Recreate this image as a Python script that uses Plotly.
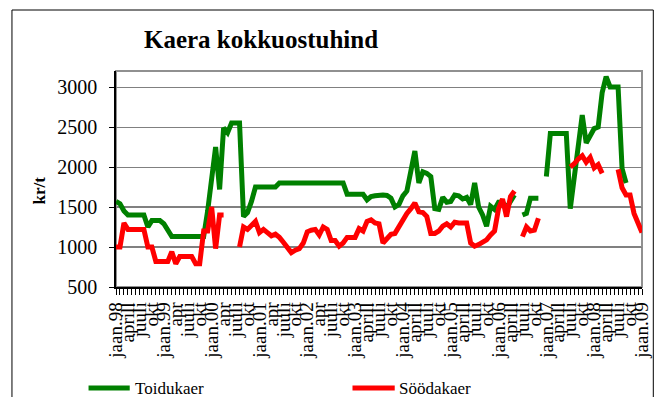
import plotly.graph_objects as go

# monthly purchase prices, jaan.98 ... jaan.09 (kr/t)
toidukaer = [
    1570, 1540, 1450, 1400, 1400, 1400, 1400, 1400, 1250, 1330, 1330, 1330,
    1290, 1200, 1130, 1130, 1130, 1130, 1130, 1130, 1130, 1130, 1130, 1450,
    1900, 2250, 1720, 2490, 2430, 2550, 2550, 2550, 1380, 1430, 1570, 1750,
    1750, 1750, 1750, 1750, 1750, 1800, 1800, 1800, 1800, 1800, 1800, 1800,
    1800, 1800, 1800, 1800, 1800, 1800, 1800, 1800, 1800, 1800, 1660, 1660,
    1660, 1660, 1660, 1590, 1630, 1640, 1650, 1650, 1645, 1610, 1500, 1530,
    1640, 1700, 1950, 2200, 1800, 1940, 1920, 1880, 1480, 1470, 1620, 1560,
    1570, 1650, 1640, 1600, 1620, 1530, 1800, 1500, 1400, 1260, 1510, 1470,
    1560, 1560, 1490, 1560, 1650, None, 1400, 1420, 1610, 1610, 1610, None,
    1880, 2420, 2420, 2420, 2420, 2420, 1480, 1880, 2270, 2650, 2300, 2380,
    2480, 2500, 2930, 3130, 3000, 3000, 3000, 1980, 1800, None, None, None,
    None,
]
soodakaer = [
    1000, 1000, 1300, 1220, 1220, 1220, 1220, 1220, 1000, 1000, 820, 820,
    820, 820, 940, 790, 880, 880, 880, 880, 790, 790, 1200, 1200,
    1500, 980, 1400, 1400, None, None, None, 1000, 1250, 1220, 1260, 1320,
    1180, 1220, 1180, 1140, 1160, 1120, 1060, 990, 930, 960, 980, 1050,
    1190, 1210, 1220, 1150, 1250, 1220, 1080, 1080, 1010, 1050, 1120, 1120,
    1120, 1230, 1200, 1320, 1340, 1300, 1290, 1050, 1100, 1160, 1170, 1260,
    1340, 1420, 1480, 1550, 1440, 1430, 1380, 1170, 1170, 1200, 1260, 1290,
    1250, 1310, 1300, 1300, 1300, 1050, 1010, 1030, 1060, 1090, 1150, 1200,
    1480, 1600, 1380, 1630, 1700, None, 1130, 1250, 1200, 1210, 1360, None,
    None, None, None, None, None, None, 2000, 2040, 2100, 2140, 2060, 2120,
    1990, 2030, 1920, None, None, None, 1970, 1740, 1650, 1650, 1420, 1300,
    1180,
]
months = list(range(len(toidukaer)))

tick_labels = [
    "jaan.98", "aprill", "juuli", "okt",
    "jaan.99", "apr", "juuli", "okt",
    "jaan.00", "apr", "juuli", "okt",
    "jaan.01", "apr", "juuli", "okt",
    "jaan.02", "apr", "juuli", "okt",
    "jaan.03", "aprill", "juuli", "okt",
    "jaan.04", "aprill", "juuli", "okt",
    "jaan.05", "aprill", "juuli", "okt",
    "jaan.06", "aprill", "juuli", "okt",
    "jaan.07", "aprill", "juuli", "okt",
    "jaan.08", "aprill", "juuli", "okt",
    "jaan.09",
]
tick_pos = months[::3]

series = [("Toidukaer", toidukaer, "#008000"), ("Söödakaer", soodakaer, "#FF0000")]

FONT = "Liberation Serif, Times New Roman, serif"

fig = go.Figure()
for name, vals, color in series:
    fig.add_trace(go.Scatter(x=months, y=vals, name=name, mode="lines",
                             line=dict(color=color, width=5), connectgaps=False))

# the page body has an 8px margin, so the figure is sized to fit inside it
fig.update_layout(
    width=656, height=389,
    margin=dict(l=108, r=12, t=63, b=110),
    paper_bgcolor="white", plot_bgcolor="white",
    font=dict(family=FONT, color="black"),
    title=dict(text="<b>Kaera kokkuostuhind</b>", font=dict(size=25, family=FONT),
               x=0.3857, xanchor="center", y=0.92, yanchor="middle"),
    showlegend=False,
)

fig.update_xaxes(
    range=[0, 132], tickvals=tick_pos, ticktext=tick_labels, tickangle=-90,
    ticks="outside", ticklen=6, tickcolor="black",
    minor=dict(ticks="outside", ticklen=6, dtick=1, tick0=0, tickcolor="black"),
    showline=True, linecolor="black", linewidth=1.5, showgrid=False, zeroline=False,
    tickfont=dict(size=19, family=FONT),
)
fig.update_yaxes(
    range=[500, 3200], tickvals=[500, 1000, 1500, 2000, 2500, 3000],
    ticks="outside", ticklen=5, tickcolor="black", ticklabelstandoff=8,
    showline=True, linecolor="black", linewidth=1.5,
    showgrid=True, gridcolor="#808080", gridwidth=1, zeroline=False,
    tickfont=dict(size=20, family=FONT),
)

# darker grid lines at the lower levels, as in the original
for level in [1000, 1500]:
    fig.add_shape(type="line", xref="paper", yref="y", x0=0, x1=1, y0=level, y1=level,
                  line=dict(color="black", width=1), layer="below")

# plot area frame and the outer chart border
fig.add_shape(type="rect", xref="paper", yref="paper", x0=0, x1=1, y0=0, y1=1,
              line=dict(color="#909090", width=2), layer="below")
fig.add_shape(type="rect", xref="paper", yref="paper", x0=-0.1978, x1=1.0215,
              y0=-0.62, y1=1.2824, line=dict(color="black", width=1))

fig.add_annotation(text="<b>kr/t</b>", xref="paper", yref="paper", x=-0.1455, y=0.449,
                   xanchor="center", yanchor="middle", textangle=-90, showarrow=False,
                   font=dict(size=17, family=FONT))

# legend drawn below the plot, spaced like the original
legend_x = [(-0.0522, 0.0261, 0.0317), (0.4496, 0.5299, 0.5336)]
for (name, _, color), (x0, x1, xt) in zip(series, legend_x):
    fig.add_shape(type="line", xref="paper", yref="paper", x0=x0, x1=x1,
                  y0=-0.4676, y1=-0.4676, line=dict(color=color, width=5))
    fig.add_annotation(text=name, xref="paper", yref="paper", x=xt, y=-0.4676,
                       xanchor="left", yanchor="middle", showarrow=False,
                       font=dict(size=17, family=FONT))

fig.write_html("out.html")
